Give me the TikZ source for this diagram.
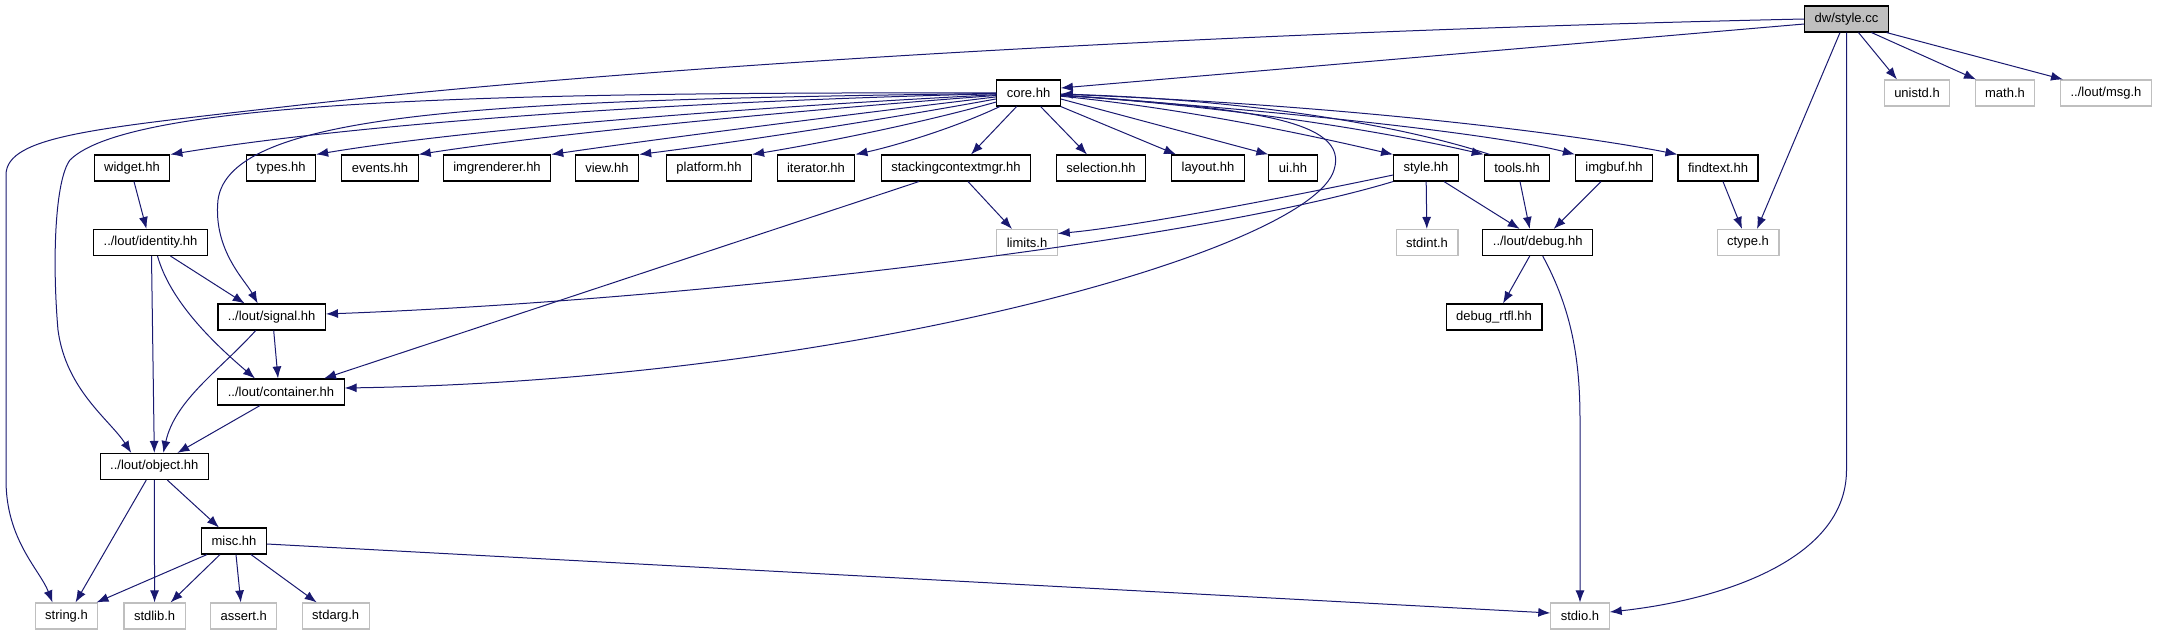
\documentclass[tikz,border=0pt]{standalone}
\usepackage{fontspec}
\setmainfont{Liberation Sans}
\usetikzlibrary{arrows.meta}
\definecolor{EdgeClr}{rgb}{0.098,0.098,0.439}
\definecolor{SysClr}{rgb}{0.75,0.75,0.75}
\definecolor{MainClr}{rgb}{0.75,0.75,0.75}
\tikzset{
  FileBox/.style={draw=black,fill=white,line width=1.1pt,minimum height=26pt,
    inner xsep=10pt,inner ysep=0pt,font=\fontsize{13}{15}\selectfont},
  SysBox/.style={FileBox,draw=SysClr},
  MainBox/.style={FileBox,fill=MainClr},
  Dep/.style={draw=EdgeClr,line width=1pt,-{Latex[length=12pt,width=9pt]}}
}

\begin{document}
\begin{tikzpicture}[x=1pt,y=-1pt]
\useasboundingbox (0,0) rectangle (2158,635);

\node[MainBox] (main) at (1846.5,19) {dw/style.cc};

\node[FileBox] (core) at (1028.6,93) {core.hh};
\node[SysBox] (unistd) at (1917,93) {unistd.h};
\node[SysBox] (math) at (2005,93) {math.h};
\node[SysBox] (msg) at (2106,93) {../lout/msg.h};

\node[FileBox] (widget) at (132,168) {widget.hh};
\node[FileBox] (types) at (281,168) {types.hh};
\node[FileBox] (events) at (380,168) {events.hh};
\node[FileBox] (imgren) at (497,168) {imgrenderer.hh};
\node[FileBox] (view) at (607,168) {view.hh};
\node[FileBox] (platform) at (709,168) {platform.hh};
\node[FileBox] (iter) at (816,168) {iterator.hh};
\node[FileBox] (stack) at (956,168) {stackingcontextmgr.hh};
\node[FileBox] (select) at (1101,168) {selection.hh};
\node[FileBox] (layout) at (1208,168) {layout.hh};
\node[FileBox] (ui) at (1293,168) {ui.hh};
\node[FileBox] (styleh) at (1426,168) {style.hh};
\node[FileBox] (tools) at (1517,168) {tools.hh};
\node[FileBox] (imgbuf) at (1614,168) {imgbuf.hh};
\node[FileBox] (findtext) at (1718,168) {findtext.hh};

\node[FileBox] (identity) at (150.5,242.5) {../lout/identity.hh};
\node[SysBox] (limits) at (1027,242.5) {limits.h};
\node[SysBox] (stdint) at (1427,242.5) {stdint.h};
\node[FileBox] (debug) at (1537.7,242.5) {../lout/debug.hh};
\node[SysBox] (ctype) at (1748,242.5) {ctype.h};

\node[FileBox] (signal) at (271.7,317) {../lout/signal.hh};
\node[FileBox] (rtfl) at (1494,317) {debug\_rtfl.hh};

\node[FileBox] (container) at (281,392) {../lout/container.hh};
\node[FileBox] (object) at (154.3,466.5) {../lout/object.hh};
\node[FileBox] (misc) at (234,541) {misc.hh};

\node[SysBox] (string) at (66.5,616) {string.h};
\node[SysBox] (stdlib) at (154.6,616) {stdlib.h};
\node[SysBox] (assert) at (243.8,616) {assert.h};
\node[SysBox] (stdarg) at (335.7,616) {stdarg.h};
\node[SysBox] (stdio) at (1580,616) {stdio.h};

\draw[Dep] ([yshift=-5]main.west) -- ([yshift=5]core.east);
\draw[Dep] (main.west) .. controls (1300,30) and (700,60) .. (300,105)
  .. controls (100,128) and (6,135) .. (6,175) -- (6,480)
  .. controls (6,540) and (40,570) .. ([xshift=-14]string.north);
\draw[Dep] ([xshift=-6.5]main.south) -- ([xshift=9]ctype.north);
\draw[Dep] (main.south) -- (1846.5,470) .. controls (1846.5,560) and (1720,600) .. ([yshift=4]stdio.east);
\draw[Dep] ([xshift=12]main.south) -- ([xshift=-20]unistd.north);
\draw[Dep] ([xshift=25]main.south) -- ([xshift=-29]math.north);
\draw[Dep] ([xshift=40]main.south) -- ([xshift=-43]msg.north);

\draw[Dep] (core) .. controls (650,102) and (350,125) .. (widget.north east);
\draw[Dep] (core) .. controls (700,110) and (450,132) .. (types.north east);
\draw[Dep] (core) .. controls (750,114) and (530,137) .. (events.north east);
\draw[Dep] (core) .. controls (820,118) and (650,140) .. (imgren.north east);
\draw[Dep] (core) .. controls (870,122) and (730,143) .. (view.north east);
\draw[Dep] (core) .. controls (910,126) and (810,145) .. (platform.north east);
\draw[Dep] (core) .. controls (950,130) and (890,147) .. (iter.north east);
\draw[Dep] ([xshift=-12]core.south) -- ([xshift=15]stack.north);
\draw[Dep] ([xshift=12]core.south) -- ([xshift=-14]select.north);
\draw[Dep] (core.south east) -- ([xshift=5]layout.north west);
\draw[Dep] ([yshift=-6]core.east) -- (ui.north west);
\draw[Dep] (core) .. controls (1200,110) and (1330,140) .. (styleh.north west);
\draw[Dep] (core) .. controls (1250,108) and (1400,135) .. (tools.north west);
\draw[Dep] ([xshift=6]tools.north west) .. controls (1400,125) and (1250,100) .. (core);
\draw[Dep] (core) .. controls (1300,112) and (1500,135) .. (imgbuf.north west);
\draw[Dep] (core) .. controls (1350,105) and (1580,135) .. (findtext.north west);
\draw[Dep] (core) .. controls (1250,108) and (1350,120) .. (1334,170)
  .. controls (1310,250) and (850,380) .. ([yshift=4]container.east);
\draw[Dep] (core) .. controls (500,100) and (230,110) .. (218,200)
  .. controls (213,250) and (245,280) .. ([xshift=-14]signal.north);
\draw[Dep] (core) .. controls (500,92) and (130,100) .. (70,160)
  .. controls (55,180) and (52,260) .. (58,330)
  .. controls (66,390) and (110,420) .. ([xshift=-23]object.north);

\draw[Dep] ([yshift=-7]styleh.west) .. controls (1250,205) and (1120,228) .. ([yshift=9]limits.east);
\draw[Dep] (styleh.south west) .. controls (1200,240) and (700,300) .. ([yshift=3]signal.east);
\draw[Dep] (styleh) -- (stdint);
\draw[Dep] ([xshift=18]styleh.south) -- ([xshift=-18]debug.north);
\draw[Dep] ([xshift=3]tools.south) -- ([xshift=-8]debug.north);
\draw[Dep] ([xshift=-13]imgbuf.south) -- ([xshift=16]debug.north);
\draw[Dep] ([xshift=5]findtext.south) -- ([xshift=-6]ctype.north);
\draw[Dep] ([xshift=-8]debug.south) -- ([xshift=9]rtfl.north);
\draw[Dep] ([xshift=5]debug.south) .. controls (1572,310) and (1580,360) .. (1580,420) -- (stdio);

\draw[Dep] ([xshift=12]stack.south) -- ([xshift=-15]limits.north);
\draw[Dep] ([xshift=-37]stack.south) -- ([xshift=43]container.north);
\draw[Dep] ([xshift=2]widget.south) -- ([xshift=-4]identity.north);
\draw[Dep] ([xshift=20]identity.south) -- ([xshift=-27]signal.north);
\draw[Dep] ([xshift=1]identity.south) -- (object.north);
\draw[Dep] ([xshift=7]identity.south) .. controls (170,300) and (210,340) .. ([xshift=-26]container.north);
\draw[Dep] ([xshift=2]signal.south) -- ([xshift=-3]container.north);
\draw[Dep] ([xshift=-16]signal.south) .. controls (220,370) and (175,400) .. ([xshift=9]object.north);
\draw[Dep] ([xshift=-21]container.south) -- ([xshift=23]object.north);
\draw[Dep] ([xshift=-8]object.south) -- ([xshift=9]string.north);
\draw[Dep] (object) -- (stdlib);
\draw[Dep] ([xshift=13]object.south) -- ([xshift=-15]misc.north);
\draw[Dep] ([xshift=-27]misc.south) -- ([xshift=30]string.north);
\draw[Dep] ([xshift=-14]misc.south) -- ([xshift=16]stdlib.north);
\draw[Dep] ([xshift=2]misc.south) -- ([xshift=-3]assert.north);
\draw[Dep] ([xshift=17]misc.south) -- ([xshift=-19]stdarg.north);
\draw[Dep] ([yshift=-3]misc.east) -- ([yshift=3]stdio.west);

\end{tikzpicture}
\end{document}
